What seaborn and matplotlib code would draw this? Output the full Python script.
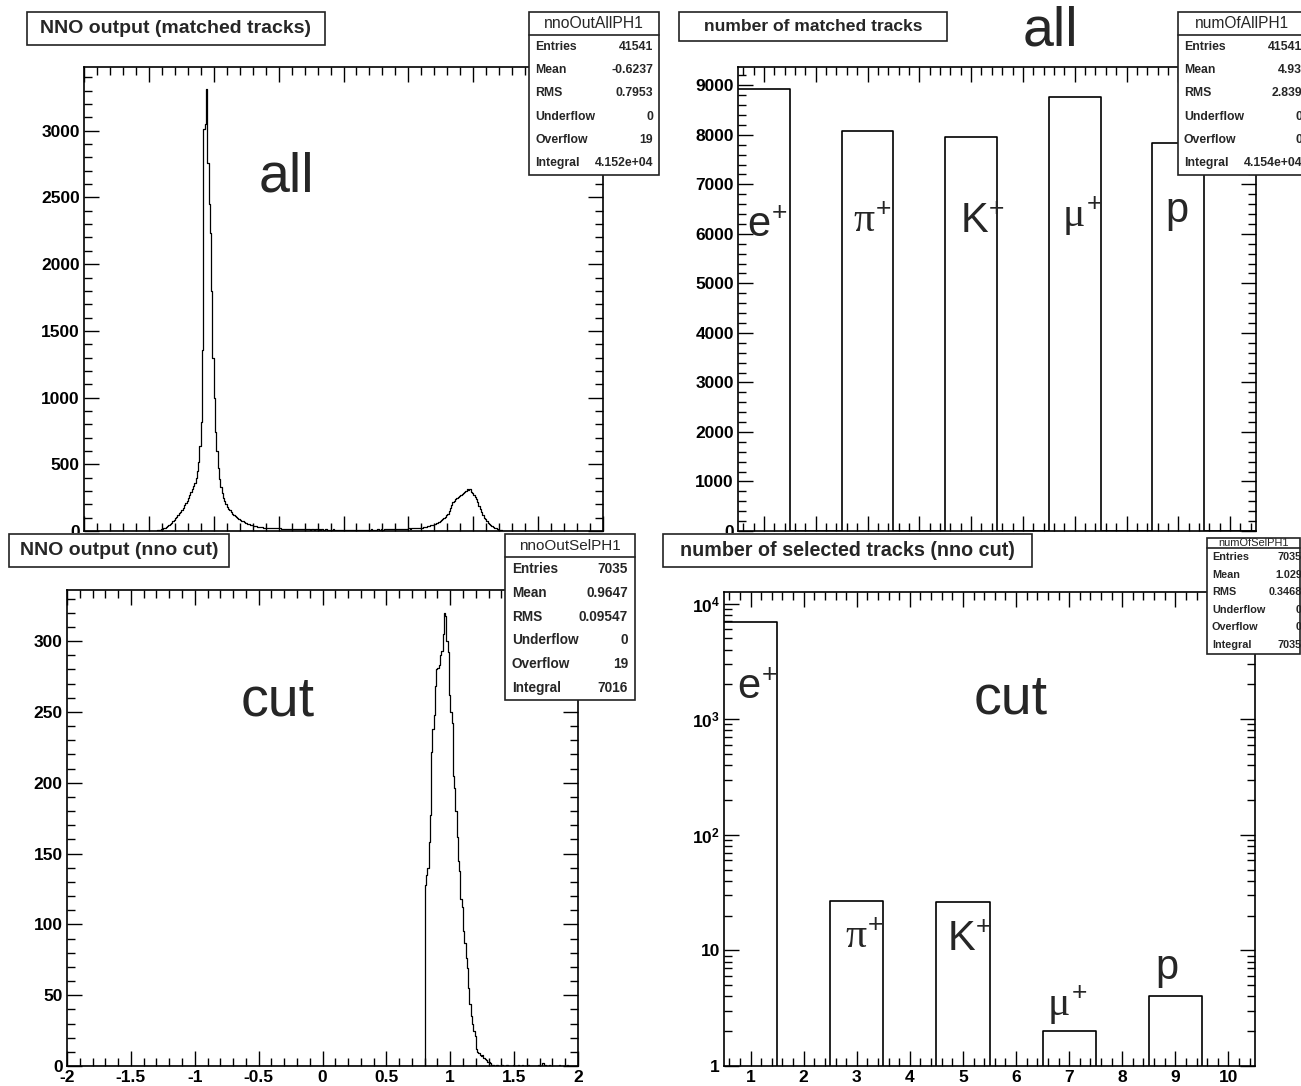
import numpy as np
import pandas as pd
import matplotlib
matplotlib.use("Agg")
import matplotlib.pyplot as plt
import seaborn as sns
from matplotlib.patches import Rectangle
from matplotlib.lines import Line2D
from matplotlib.text import Annotation
from matplotlib.ticker import MultipleLocator, AutoMinorLocator, LogLocator, NullFormatter

# ---------------- data ----------------
# NNO output, all matched tracks: 0.01 wide bins, first listed bin starts at -1.45
all_first_edge = -1.45
all_left_tail = [2, 4, 6, 9, 12, 16, 20, 25, 31, 38,
                 45, 53, 62, 72, 83, 94, 106, 118, 132, 146,
                 160, 176, 192, 210, 228, 248, 268, 290, 312, 334,
                 360, 400, 450, 520, 640, 820]
all_main_peak = [1360, 3010, 3050, 3312, 2760]
all_right_tail = [2450, 2230, 1800, 1300, 1000, 740, 600, 470, 390, 330,
                  285, 250, 222, 200, 182, 168, 155, 142, 131, 121,
                  112, 104, 97, 90, 84, 78, 72, 67, 62, 58,
                  54, 50, 47, 44, 41, 38, 35, 33, 31, 29,
                  28, 27, 26, 25, 24, 24, 23, 23, 22, 22,
                  21, 21, 20, 20, 19, 19, 18, 18, 17, 17]
all_flat = [17, 15, 16, 16, 14, 15, 16, 14, 13, 15,
            14, 13, 14, 12, 13, 14, 12, 13, 11, 13,
            12, 11, 13, 12, 10, 12, 11, 12, 10, 11,
            12, 10, 11, 9, 11, 10, 12, 10, 9, 11,
            10, 9, 11, 10, 8, 10, 9, 11, 9, 10,
            8, 10, 9, 11, 9, 8, 10, 9, 10, 8,
            10, 9, 11, 9, 10, 12, 10, 11, 9, 11,
            12, 10, 11, 13, 11, 12, 14, 12, 13, 12,
            14, 13, 15, 14, 13, 15, 16, 14, 16, 15,
            17, 16, 18, 17, 19, 18, 20, 19, 21, 20,
            22, 21, 23, 24]
all_second_peak = [25, 27, 30, 32, 35, 37, 40, 42, 44, 47,
                   52, 57, 63, 70, 76, 82, 87, 96, 105, 118,
                   130, 150, 172, 195, 215, 228, 240, 250, 258, 265,
                   272, 280, 284, 295, 300, 312, 306, 318, 296, 284,
                   268, 255, 242, 215, 188, 165, 140, 120, 100, 88,
                   75, 62, 52, 43, 36, 30, 26, 20, 15, 10,
                   7, 4, 3, 2]
all_far_tail = [1, 2, 1, 0, 1, 1, 0, 1, 0, 1]

# NNO output after the cut: 0.01 wide bins, first listed bin starts at 0.80
sel_first_edge = 0.80
sel_counts = [128, 135, 140, 158, 177, 222, 238, 248, 268, 280,
              281, 283, 290, 293, 305, 320, 318, 300, 292, 262,
              250, 242, 205, 196, 180, 162, 145, 138, 118, 112,
              95, 87, 76, 69, 55, 44, 35, 30, 25, 21,
              12, 10, 9, 8, 7, 8, 6, 5, 4, 3, 3, 2, 1, 1]
sel_sparse_centers = [1.365, 1.405, 1.445, 1.495, 1.535, 1.565, 1.615,
                      1.695, 1.725, 1.745, 1.775, 1.855, 1.915]
sel_sparse_counts = [1, 1, 1, 1, 1, 1, 1, 1, 2, 1, 1, 1, 1]

# particle species histograms (bins 1..10)
particle_names = ["e", "π", "K", "μ", "p"]
particle_charges = ["+", "+", "+", "+", ""]
particle_bins = [1, 3, 5, 7, 9]
matched_counts = [8917, 8080, 7955, 8758, 7831]
selected_counts = [6976, 27, 26, 2, 4]

stat_labels = ["Entries", "Mean", "RMS", "Underflow", "Overflow", "Integral"]
tl_stats = ["41541", "-0.6237", "0.7953", "0", "19", "4.152e+04"]
tr_stats = ["41541", "4.93", "2.839", "0", "0", "4.154e+04"]
bl_stats = ["7035", "0.9647", "0.09547", "0", "19", "7016"]
br_stats = ["7035", "1.029", "0.3468", "0", "0", "7035"]

nno_ticks = [-2, -1.5, -1, -0.5, 0, 0.5, 1, 1.5, 2]
nno_tick_labels = ["-2", "-1.5", "-1", "-0.5", "0", "0.5", "1", "1.5", "2"]
log_ticks = [1, 10, 100, 1000, 10000]
log_tick_labels = ["1", "10", r"$\mathbf{10^{2}}$", r"$\mathbf{10^{3}}$", r"$\mathbf{10^{4}}$"]

# ---------------- style ----------------
sns.set_theme(style="ticks")
plt.rcParams["font.family"] = ["Liberation Sans", "DejaVu Sans"]
plt.rcParams["font.weight"] = "bold"
plt.rcParams["axes.unicode_minus"] = False
plt.rcParams["mathtext.fontset"] = "custom"
plt.rcParams["mathtext.rm"] = "Liberation Sans"
plt.rcParams["mathtext.bf"] = "Liberation Sans:bold"

W, H = 1301, 1086
SANS = ["Liberation Sans", "DejaVu Sans"]
SERIF = ["Liberation Serif", "DejaVu Serif"]


def axes_rect(left, top, right, bottom):
    return [left / W, 1 - bottom / H, (right - left) / W, (bottom - top) / H]


def root_style(ax, xlim, ylim):
    ax.set_xlim(*xlim)
    ax.set_ylim(*ylim)
    ax.set_xlabel("")
    ax.set_ylabel("")
    for s in ax.spines.values():
        s.set_visible(True)
        s.set_color("black")
        s.set_linewidth(1.2)
    ax.tick_params(which="both", direction="in", top=True, right=True,
                   color="black", width=1.0, labelsize=12.5, pad=3, labelcolor="black")
    ax.tick_params(which="major", length=11)
    ax.tick_params(which="minor", length=5.5)


def frame_box(left, top, right, bottom, zorder=5):
    fig.add_artist(Rectangle((left / W, 1 - bottom / H), (right - left) / W, (bottom - top) / H,
                             transform=fig.transFigure, facecolor="white",
                             edgecolor="#222222", linewidth=1.2, zorder=zorder))


def title_box(left, top, right, bottom, text, size):
    frame_box(left, top, right, bottom)
    fig.text((left + right) / 2 / W, 1 - (top + bottom) / 2 / H, text, fontsize=size,
             ha="center", va="center", zorder=6)


def stat_box(left, top, right, bottom, line_y, name, values, title_size, row_size, label_x, value_x):
    frame_box(left, top, right, bottom)
    fig.add_artist(Line2D([left / W, right / W], [1 - line_y / H] * 2, transform=fig.transFigure,
                          color="#222222", linewidth=1.2, zorder=6))
    fig.text((left + right) / 2 / W, 1 - (top + line_y) / 2 / H, name, fontsize=title_size,
             fontweight="normal", ha="center", va="center", zorder=6)
    step = (bottom - line_y) / len(stat_labels)
    for i, (lab, val) in enumerate(zip(stat_labels, values)):
        y = 1 - (line_y + (i + 0.5) * step) / H
        fig.text(label_x / W, y, lab, fontsize=row_size, ha="left", va="center", zorder=6)
        fig.text(value_x / W, y, val, fontsize=row_size, ha="right", va="center", zorder=6)


def big_text(x, y, s):
    fig.text(x / W, 1 - y / H, s, fontsize=40, fontweight="normal", family=SANS,
             ha="center", va="baseline", zorder=7)


def particle(x, y, name, charge):
    fam = SERIF if name in ("π", "μ") else SANS
    t = fig.text(x / W, 1 - y / H, name, fontsize=30, fontweight="normal", family=fam,
                 ha="center", va="baseline", zorder=7)
    if charge:
        fig.add_artist(Annotation(charge, xy=(1.0, 0.8), xycoords=t, xytext=(1, 0),
                                  textcoords="offset points", fontsize=19, fontweight="normal",
                                  family=SANS, ha="left", va="center", zorder=7))


def step_hist(ax, centers, counts, edges, lw):
    df = pd.DataFrame({"x": np.asarray(centers, dtype=float),
                       "n": np.asarray(counts, dtype=float)})
    sns.histplot(data=df, x="x", weights="n", bins=list(edges), element="step",
                 fill=False, color="black", linewidth=lw, ax=ax)


# ---------------- figure ----------------
fig = plt.figure(figsize=(W / 100, H / 100), dpi=100)
ax_tl = fig.add_axes(axes_rect(84, 67, 603, 531), zorder=0)
ax_tr = fig.add_axes(axes_rect(738, 67, 1256, 531), zorder=0)
# lower pads are pasted over the upper ones
fig.add_artist(Rectangle((0, 0), 1, 1 - 533 / H, transform=fig.transFigure,
                         facecolor="white", edgecolor="none", zorder=1))
ax_bl = fig.add_axes(axes_rect(67, 590, 578, 1066), zorder=2)
ax_br = fig.add_axes(axes_rect(724, 592, 1255, 1066), zorder=2)

nno_edges = np.linspace(-2, 2, 401)
species_edges = np.arange(0.5, 11.5, 1.0)

# NNO output, all tracks
all_values = np.concatenate([all_left_tail, all_main_peak, all_right_tail,
                             all_flat, all_second_peak, all_far_tail])
all_centers = all_first_edge + 0.005 + 0.01 * np.arange(len(all_values))
step_hist(ax_tl, all_centers, all_values, nno_edges, 0.9)
root_style(ax_tl, (-2, 2), (0, 3478))
ax_tl.set_xticks(nno_ticks, nno_tick_labels)
ax_tl.xaxis.set_minor_locator(AutoMinorLocator(5))
ax_tl.yaxis.set_major_locator(MultipleLocator(500))
ax_tl.yaxis.set_minor_locator(AutoMinorLocator(5))
ax_tl.tick_params(labelbottom=False)

# number of matched tracks
step_hist(ax_tr, particle_bins, matched_counts, species_edges, 1.2)
root_style(ax_tr, (0.5, 10.5), (0, 9370))
ax_tr.xaxis.set_major_locator(MultipleLocator(1))
ax_tr.xaxis.set_minor_locator(AutoMinorLocator(5))
ax_tr.yaxis.set_major_locator(MultipleLocator(1000))
ax_tr.yaxis.set_minor_locator(AutoMinorLocator(5))
ax_tr.tick_params(labelbottom=False)

# NNO output after cut
sel_centers = sel_first_edge + 0.005 + 0.01 * np.arange(len(sel_counts))
step_hist(ax_bl, np.concatenate([sel_centers, sel_sparse_centers]),
          np.concatenate([sel_counts, sel_sparse_counts]), nno_edges, 0.9)
root_style(ax_bl, (-2, 2), (0, 336))
ax_bl.set_xticks(nno_ticks, nno_tick_labels)
ax_bl.xaxis.set_minor_locator(AutoMinorLocator(5))
ax_bl.yaxis.set_major_locator(MultipleLocator(50))
ax_bl.yaxis.set_minor_locator(AutoMinorLocator(5))

# number of selected tracks (log)
step_hist(ax_br, particle_bins, selected_counts, species_edges, 1.2)
ax_br.set_yscale("log")
root_style(ax_br, (0.5, 10.5), (1, 12580))
ax_br.xaxis.set_major_locator(MultipleLocator(1))
ax_br.xaxis.set_minor_locator(AutoMinorLocator(5))
ax_br.set_yticks(log_ticks, log_tick_labels)
ax_br.yaxis.set_minor_locator(LogLocator(base=10, subs=np.arange(2, 10)))
ax_br.yaxis.set_minor_formatter(NullFormatter())

# ---------------- title and stat boxes ----------------
title_box(27, 12, 325, 45, "NNO output (matched tracks)", 14)
title_box(679, 12, 947, 41, "number of matched tracks", 12.6)
title_box(9, 534, 229, 567, "NNO output (nno cut)", 14)
title_box(663, 534, 1032, 567, "number of selected tracks (nno cut)", 14.2)

stat_box(529, 12, 659, 175, 35, "nnoOutAllPH1", tl_stats, 11.3, 8.8, 535, 653)
stat_box(1178, 12, 1306, 175, 35, "numOfAllPH1", tr_stats, 11.2, 8.8, 1184, 1302)
stat_box(505, 534, 635, 700, 557, "nnoOutSelPH1", bl_stats, 11, 9.8, 512, 628)
stat_box(1207, 538, 1300, 654, 548, "numOfSelPH1", br_stats, 7.9, 7.8, 1212, 1302)

# ---------------- big annotations ----------------
big_text(286, 192, "all")
big_text(1050, 45, "all")
big_text(278, 715, "cut")
big_text(1011, 714, "cut")

for x, y, name, charge in zip([759, 864, 974, 1074, 1177], [236, 231, 232, 226, 222],
                              particle_names, particle_charges):
    particle(x, y, name, charge)
for x, y, name, charge in zip([749, 856, 961, 1059, 1167], [698, 947, 950, 1015, 979],
                              particle_names, particle_charges):
    particle(x, y, name, charge)

fig.savefig("out.png", dpi=100)
